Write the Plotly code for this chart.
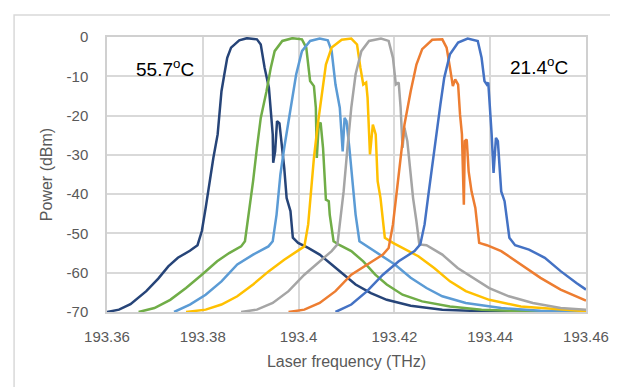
import plotly.graph_objects as go

# Data (frequency THz, power dBm)
navy_f = [193.36, 193.3625, 193.3649, 193.3682, 193.3707, 193.3728, 193.3748, 193.3773, 193.3789, 193.3798,
          193.3806, 193.3814, 193.3822, 193.3831, 193.3839, 193.3845, 193.3851, 193.3859, 193.3876, 193.3892,
          193.3913, 193.3921, 193.3929, 193.3938, 193.3942, 193.3946, 193.3947, 193.3951, 193.3955, 193.3960,
          193.3964, 193.3970, 193.3975, 193.3983, 193.3988, 193.3999, 193.4020, 193.4044, 193.4069, 193.4094,
          193.4119, 193.4151, 193.4184, 193.4234, 193.4300, 193.4382, 193.46]
navy_p = [-70, -69.4, -68.0, -64.7, -61.5, -58.4, -56.2, -54.4, -53.0, -49.4,
          -43.5, -36.7, -30.8, -24.8, -13.8, -9.5, -5.3, -2.7, -0.85, -0.3,
          -0.6, -1.9, -7.8, -12.9, -18.0, -24.8, -32.0, -29.1, -21.4, -22.0,
          -26.5, -33.3, -41.0, -44.3, -51.1, -52.4, -53.7, -55.4, -57.9, -60.5,
          -63.0, -65.2, -66.9, -68.4, -69.4, -69.8, -70]

green_f = [193.3666, 193.3699, 193.3732, 193.3765, 193.3798, 193.3830, 193.3855, 193.3880, 193.3888, 193.3896,
           193.3905, 193.3913, 193.3921, 193.3933, 193.3942, 193.3950, 193.3966, 193.3987, 193.4007, 193.4016,
           193.4024, 193.4032, 193.4036, 193.4038, 193.4042, 193.4046, 193.4051, 193.4057, 193.4063, 193.4065,
           193.4073, 193.4086, 193.4110, 193.4135, 193.4160, 193.4184, 193.4217, 193.4258, 193.4316, 193.4382,
           193.4464, 193.46]
green_p = [-70, -69.0, -66.9, -63.9, -60.5, -57.1, -55.0, -53.3, -52.0, -45.2,
           -36.7, -28.2, -20.6, -13.8, -7.8, -3.6, -1.0, -0.3, -0.6, -2.7,
           -11.2, -12.5, -18.0, -30.8, -22.3, -21.8, -28.2, -41.4, -41.8, -45.2,
           -52.0, -53.0, -54.5, -57.1, -60.5, -63.0, -65.6, -67.3, -68.6, -69.4,
           -69.8, -70]

lblue_f = [193.3740, 193.3773, 193.3806, 193.3839, 193.3872, 193.3905, 193.3937, 193.3946, 193.3954, 193.3962,
           193.3970, 193.3983, 193.3995, 193.4007, 193.4024, 193.4044, 193.4061, 193.4069, 193.4077, 193.4086,
           193.4090, 193.4092, 193.4096, 193.4100, 193.4106, 193.4112, 193.4119, 193.4127, 193.4143, 193.4168,
           193.4201, 193.4234, 193.4267, 193.4300, 193.4349, 193.4423, 193.4505, 193.46]
lblue_p = [-70, -68.1, -65.6, -62.2, -57.9, -55.4, -53.3, -52.0, -45.2, -35.0,
           -28.2, -18.0, -9.5, -3.6, -1.0, -0.4, -0.85, -3.6, -12.1, -18.0,
           -24.8, -29.1, -20.6, -21.4, -28.2, -36.7, -45.2, -52.0, -53.3, -55.4,
           -57.9, -61.3, -63.9, -66.0, -67.7, -69.0, -69.7, -70]

gold_f = [193.3765, 193.3806, 193.3839, 193.3872, 193.3905, 193.3938, 193.3970, 193.3999, 193.4012, 193.4020,
          193.4026, 193.4032, 193.4040, 193.4049, 193.4057, 193.4069, 193.4090, 193.4110, 193.4122, 193.4129,
          193.4135, 193.4141, 193.4144, 193.4149, 193.4155, 193.4161, 193.4165, 193.4171, 193.4180, 193.4197,
          193.4217, 193.4250, 193.4283, 193.4316, 193.4349, 193.4398, 193.4464, 193.4547, 193.46]
gold_p = [-70, -69.4, -68.1, -66.0, -63.0, -59.6, -56.7, -54.5, -53.3, -47.7,
          -39.3, -30.8, -22.3, -13.8, -7.0, -2.7, -0.7, -0.4, -1.9, -7.8,
          -12.1, -11.6, -15.5, -29.9, -22.3, -24.8, -36.7, -41.0, -51.1, -52.4,
          -53.7, -55.8, -58.8, -62.2, -64.7, -66.9, -68.6, -69.4, -69.8]

gray_f = [193.3880, 193.3913, 193.3946, 193.3979, 193.4012, 193.4044, 193.4069, 193.4081, 193.4086, 193.4094,
          193.4102, 193.4110, 193.4119, 193.4131, 193.4147, 193.4172, 193.4188, 193.4197, 193.4203, 193.4209,
          193.4213, 193.4217, 193.4221, 193.4227, 193.4234, 193.4239, 193.4246, 193.4252, 193.4267, 193.4300,
          193.4332, 193.4365, 193.4398, 193.4439, 193.4489, 193.4547, 193.46]
gray_p = [-70, -69.4, -67.7, -64.7, -60.5, -57.1, -54.5, -52.8, -47.7, -39.3,
          -28.2, -18.0, -9.5, -3.6, -1.0, -0.4, -1.0, -5.3, -12.1, -11.6,
          -18.0, -28.2, -23.1, -26.5, -35.0, -41.0, -46.9, -52.8, -53.0, -55.4,
          -58.8, -61.3, -63.9, -66.0, -67.7, -69.0, -69.4]

orange_f = [193.3979, 193.4012, 193.4044, 193.4077, 193.4110, 193.4143, 193.4176, 193.4188, 193.4197, 193.4205,
            193.4213, 193.4221, 193.4234, 193.4246, 193.4258, 193.4279, 193.4300, 193.4309, 193.4316, 193.4322,
            193.4327, 193.4333, 193.4337, 193.4341, 193.4345, 193.4347, 193.4351, 193.4355, 193.4361, 193.4369,
            193.4377, 193.4393, 193.4423, 193.4464, 193.4505, 193.4547, 193.46]
orange_p = [-70, -69.4, -67.7, -64.7, -60.5, -57.9, -55.4, -53.7, -47.7, -39.3,
            -30.8, -22.3, -13.8, -7.0, -3.1, -0.7, -0.6, -2.7, -7.8, -12.5,
            -10.8, -12.1, -19.7, -24.8, -42.7, -26.5, -26.1, -34.2, -39.3, -43.5,
            -52.4, -53.0, -54.5, -57.9, -61.3, -64.3, -67.1]

blue_f = [193.4077, 193.4110, 193.4143, 193.4176, 193.4209, 193.4242, 193.4254, 193.4263, 193.4271, 193.4279,
          193.4287, 193.4296, 193.4304, 193.4316, 193.4333, 193.4353, 193.4374, 193.4382, 193.4388, 193.4393,
          193.4396, 193.4400, 193.4403, 193.4407, 193.4412, 193.4416, 193.4423, 193.4430, 193.4440, 193.4452,
          193.4481, 193.4514, 193.4547, 193.4580, 193.46]
blue_p = [-70, -68.1, -64.7, -60.5, -57.1, -54.5, -52.8, -47.7, -40.1, -32.5,
          -24.8, -17.2, -10.4, -4.4, -1.4, -0.4, -1.0, -5.3, -11.2, -12.1,
          -11.6, -18.0, -24.8, -34.6, -25.7, -26.5, -39.3, -41.8, -51.1, -53.0,
          -54.1, -56.2, -59.6, -62.6, -64.3]

x_tickvals = [193.36, 193.38, 193.40, 193.42, 193.44, 193.46]
x_ticktext = ["193.36", "193.38", "193.4", "193.42", "193.44", "193.46"]
y_tickvals = [0, -10, -20, -30, -40, -50, -60, -70]
y_ticktext = ["0", "-10", "-20", "-30", "-40", "-50", "-60", "-70"]

series = [
    (navy_f, navy_p, "#264478"),
    (green_f, green_p, "#70AD47"),
    (lblue_f, lblue_p, "#5B9BD5"),
    (gold_f, gold_p, "#FFC000"),
    (gray_f, gray_p, "#A5A5A5"),
    (orange_f, orange_p, "#ED7D31"),
    (blue_f, blue_p, "#4472C4"),
]

fig = go.Figure()
for f, p, c in series:
    fig.add_trace(go.Scatter(x=f, y=p, mode="lines",
                             line=dict(color=c, width=2.5), showlegend=False,
                             hoverinfo="skip"))

font_family = "Liberation Sans, Arial, sans-serif"
fig.update_layout(
    width=618, height=387,
    margin=dict(l=99, r=40, t=29, b=83),
    paper_bgcolor="white", plot_bgcolor="white",
    font=dict(family=font_family, color="#595959", size=15),
    xaxis=dict(range=[193.36, 193.46], tickvals=x_tickvals, ticktext=x_ticktext,
               showgrid=True, gridcolor="#D9D9D9", gridwidth=1.5,
               showline=True, linecolor="#D0D0D0", linewidth=1.5, mirror=True,
               zeroline=False, ticks="", ticklabelstandoff=10,
               title=dict(text="Laser frequency (THz)", standoff=12,
                          font=dict(size=16, color="#595959"))),
    yaxis=dict(range=[-70, 0], tickvals=y_tickvals, ticktext=y_ticktext,
               showgrid=True, gridcolor="#D9D9D9", gridwidth=1.5,
               showline=True, linecolor="#D0D0D0", linewidth=1.5, mirror=True,
               zeroline=False, ticks="", ticklabelstandoff=14,
               title=dict(text="Power (dBm)", standoff=10,
                          font=dict(size=16, color="#595959"))),
    annotations=[
        dict(text="55.7<sup>o</sup>C", x=193.3722, y=-8, xref="x", yref="y",
             showarrow=False, font=dict(size=19, color="black", family=font_family)),
        dict(text="21.4<sup>o</sup>C", x=193.4501, y=-7.5, xref="x", yref="y",
             showarrow=False, font=dict(size=19, color="black", family=font_family)),
    ],
    shapes=[
        dict(type="rect", xref="paper", yref="paper",
             x0=-0.194, x1=1.25, y0=-0.4, y1=1.08,
             line=dict(color="#D9D9D9", width=1.5), fillcolor="rgba(0,0,0,0)", layer="below"),
    ],
)

fig.write_html("out.html")
